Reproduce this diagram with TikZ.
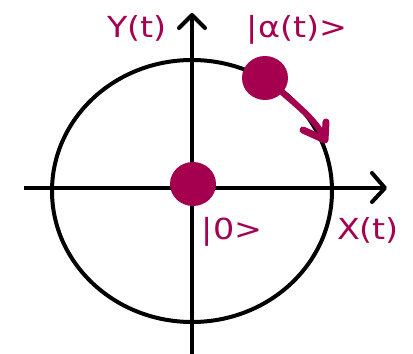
\documentclass[tikz,border=0pt]{standalone}
\usepackage{fontspec}
\setmainfont{DejaVu Sans}
\usetikzlibrary{shapes.geometric}
\definecolor{berry}{RGB}{165,0,80}
\begin{document}
\begin{tikzpicture}[x=1pt,y=-1pt,
  axis/.style={line width=4pt},
  chev/.style={line width=4pt,line cap=round,line join=round},
  dot/.style={ellipse,fill=berry,minimum width=46pt,minimum height=44pt,inner sep=0pt},
  lbl/.style={text=berry,font=\fontsize{29}{29}\selectfont,inner sep=0pt,xscale=1.15},
  mov/.style={berry,line width=6pt,line cap=round,line join=round}]
\useasboundingbox (0,0) rectangle (413,354);
\fill[white] (0,0) rectangle (413,354);
\coordinate (xs) at (24,188);
\coordinate (xe) at (385,188);
\coordinate (ys) at (192,354);
\coordinate (ye) at (192,15);
\draw[line width=4pt] (192,191) ellipse [x radius=140, y radius=131];
\draw[axis] (xs) -- (xe);
\draw[axis] (ys) -- (ye);
\draw[chev] (372,173) -- (xe) -- (372,202);
\draw[chev] (179,28) -- (ye) -- (205,28);
\node[dot] (o) at (193,184) {};
\node[dot] (a) at (265,78) {};
\coordinate (tip) at (325,140);
\draw[mov] (a.-40) .. controls (300,108) and (318,122) .. (tip);
\draw[mov,line width=7pt] (303,130) -- (tip) -- (326,122);
\node[lbl] (ly) at (137,28) {Y(t)};
\node[lbl] (la) at (297,30) {|α(t)>};
\node[lbl] (l0) at (232,232) {|0>};
\node[lbl] (lx) at (368,230) {X(t)};
\end{tikzpicture}
\end{document}
